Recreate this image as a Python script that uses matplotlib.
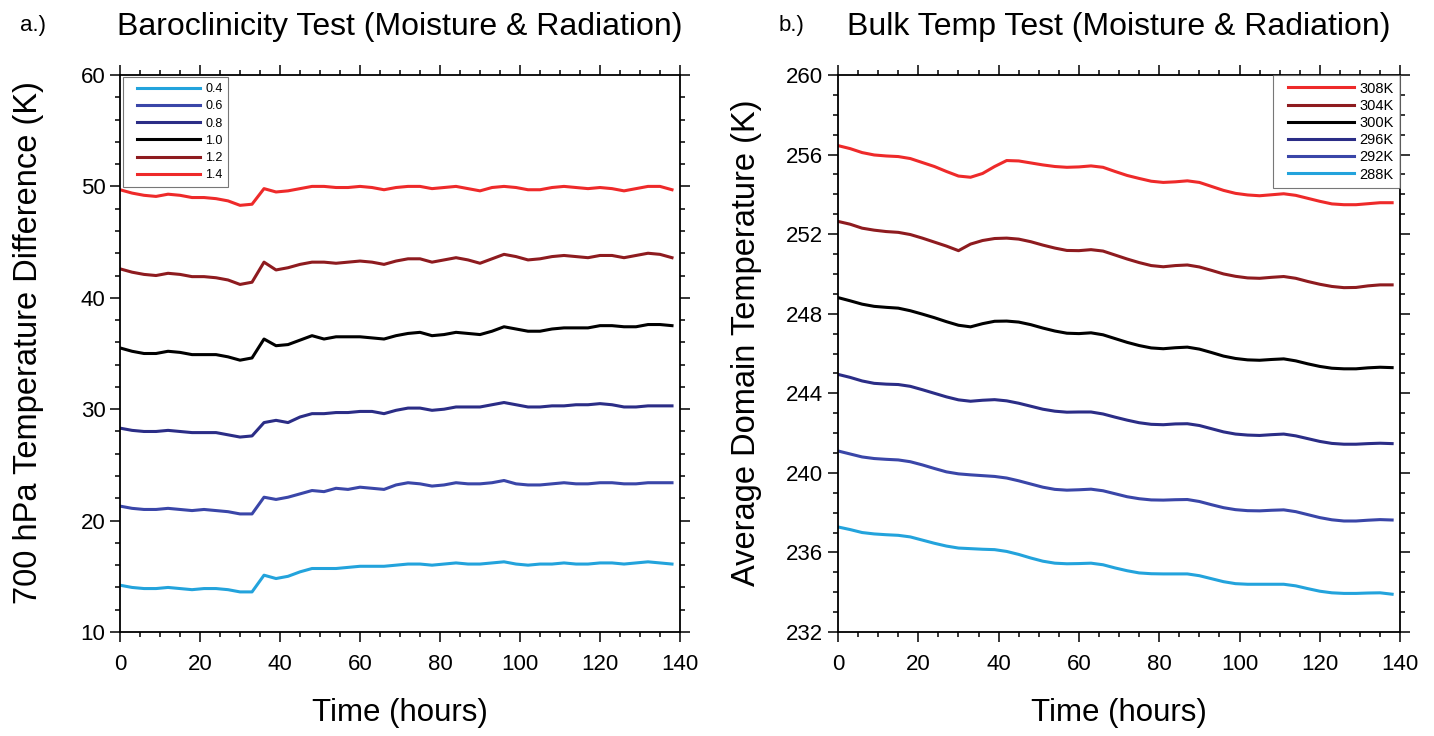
import matplotlib.pyplot as plt
from matplotlib.legend_handler import HandlerLine2D
from matplotlib.lines import Line2D
from matplotlib.ticker import MultipleLocator

plt.rcParams['font.family'] = ['Liberation Sans', 'DejaVu Sans']

hours = list(range(0, 139, 3))

# a.) baroclinicity test
baro_labels = ['0.4', '0.6', '0.8', '1.0', '1.2', '1.4']
baro_04 = [14.2, 14.0, 13.9, 13.9, 14.0, 13.9, 13.8, 13.9, 13.9, 13.8, 13.6, 13.6, 15.1, 14.8, 15.0, 15.4,
           15.7, 15.7, 15.7, 15.8, 15.9, 15.9, 15.9, 16.0, 16.1, 16.1, 16.0, 16.1, 16.2, 16.1, 16.1, 16.2,
           16.3, 16.1, 16.0, 16.1, 16.1, 16.2, 16.1, 16.1, 16.2, 16.2, 16.1, 16.2, 16.3, 16.2, 16.1]
baro_06 = [21.3, 21.1, 21.0, 21.0, 21.1, 21.0, 20.9, 21.0, 20.9, 20.8, 20.6, 20.6, 22.1, 21.9, 22.1, 22.4,
           22.7, 22.6, 22.9, 22.8, 23.0, 22.9, 22.8, 23.2, 23.4, 23.3, 23.1, 23.2, 23.4, 23.3, 23.3, 23.4,
           23.6, 23.3, 23.2, 23.2, 23.3, 23.4, 23.3, 23.3, 23.4, 23.4, 23.3, 23.3, 23.4, 23.4, 23.4]
baro_08 = [28.3, 28.1, 28.0, 28.0, 28.1, 28.0, 27.9, 27.9, 27.9, 27.7, 27.5, 27.6, 28.8, 29.0, 28.8, 29.3,
           29.6, 29.6, 29.7, 29.7, 29.8, 29.8, 29.6, 29.9, 30.1, 30.1, 29.9, 30.0, 30.2, 30.2, 30.2, 30.4,
           30.6, 30.4, 30.2, 30.2, 30.3, 30.3, 30.4, 30.4, 30.5, 30.4, 30.2, 30.2, 30.3, 30.3, 30.3]
baro_10 = [35.5, 35.2, 35.0, 35.0, 35.2, 35.1, 34.9, 34.9, 34.9, 34.7, 34.4, 34.6, 36.3, 35.7, 35.8, 36.2,
           36.6, 36.3, 36.5, 36.5, 36.5, 36.4, 36.3, 36.6, 36.8, 36.9, 36.6, 36.7, 36.9, 36.8, 36.7, 37.0,
           37.4, 37.2, 37.0, 37.0, 37.2, 37.3, 37.3, 37.3, 37.5, 37.5, 37.4, 37.4, 37.6, 37.6, 37.5]
baro_12 = [42.6, 42.3, 42.1, 42.0, 42.2, 42.1, 41.9, 41.9, 41.8, 41.6, 41.2, 41.4, 43.2, 42.5, 42.7, 43.0,
           43.2, 43.2, 43.1, 43.2, 43.3, 43.2, 43.0, 43.3, 43.5, 43.5, 43.2, 43.4, 43.6, 43.4, 43.1, 43.5,
           43.9, 43.7, 43.4, 43.5, 43.7, 43.8, 43.7, 43.6, 43.8, 43.8, 43.6, 43.8, 44.0, 43.9, 43.6]
baro_14 = [49.7, 49.4, 49.2, 49.1, 49.3, 49.2, 49.0, 49.0, 48.9, 48.7, 48.3, 48.4, 49.8, 49.5, 49.6, 49.8,
           50.0, 50.0, 49.9, 49.9, 50.0, 49.9, 49.7, 49.9, 50.0, 50.0, 49.8, 49.9, 50.0, 49.8, 49.6, 49.9,
           50.0, 49.9, 49.7, 49.7, 49.9, 50.0, 49.9, 49.8, 49.9, 49.8, 49.6, 49.8, 50.0, 50.0, 49.7]

# b.) bulk temperature test
bulk_labels = ['308K', '304K', '300K', '296K', '292K', '288K']
bulk_308 = [256.45, 256.3, 256.1, 255.98, 255.93, 255.9, 255.8, 255.6, 255.4, 255.15, 254.92, 254.86,
            255.05, 255.4, 255.7, 255.68, 255.58, 255.48, 255.4, 255.36, 255.38, 255.43, 255.36, 255.15,
            254.95, 254.8, 254.66, 254.6, 254.63, 254.68, 254.6, 254.4, 254.2, 254.05, 253.97, 253.93,
            253.98, 254.03, 253.95, 253.8, 253.65, 253.52, 253.48, 253.48, 253.53, 253.58, 253.58]
bulk_304 = [252.64, 252.5, 252.3, 252.2, 252.13, 252.09, 251.98, 251.8, 251.6, 251.4, 251.17, 251.5,
            251.68, 251.78, 251.8, 251.75, 251.62, 251.45, 251.3, 251.18, 251.17, 251.22, 251.15, 250.95,
            250.75, 250.57, 250.42, 250.36, 250.42, 250.45, 250.35, 250.18, 250.0, 249.88, 249.8, 249.78,
            249.83, 249.87, 249.78, 249.62, 249.48, 249.37, 249.31, 249.32, 249.4, 249.45, 249.45]
bulk_300 = [248.81, 248.65, 248.48, 248.37, 248.32, 248.28, 248.15, 247.98, 247.8, 247.6, 247.42, 247.34,
            247.5, 247.62, 247.63, 247.58, 247.45, 247.28, 247.13, 247.02, 247.0, 247.04, 246.94, 246.75,
            246.56, 246.4, 246.28, 246.24, 246.29, 246.32, 246.22, 246.05, 245.87, 245.75, 245.68, 245.66,
            245.7, 245.73, 245.63, 245.48, 245.35, 245.26, 245.23, 245.23, 245.28, 245.31, 245.29]
bulk_296 = [244.95, 244.8, 244.62, 244.5, 244.46, 244.44, 244.35, 244.18, 244.0, 243.82, 243.67, 243.6,
            243.65, 243.68, 243.62, 243.5, 243.35, 243.2, 243.1, 243.05, 243.06, 243.06, 242.96, 242.8,
            242.65, 242.52, 242.44, 242.42, 242.46, 242.47, 242.38, 242.22, 242.06, 241.95, 241.9, 241.88,
            241.92, 241.95, 241.86, 241.72, 241.58, 241.48, 241.44, 241.44, 241.47, 241.49, 241.47]
bulk_292 = [241.1, 240.95, 240.8, 240.72, 240.68, 240.65, 240.56, 240.4, 240.22, 240.05, 239.95, 239.9,
            239.86, 239.82, 239.74, 239.6, 239.44, 239.28, 239.17, 239.13, 239.15, 239.18, 239.1, 238.95,
            238.8, 238.7, 238.64, 238.63, 238.65, 238.66, 238.56, 238.4, 238.25, 238.15, 238.1, 238.09,
            238.12, 238.14, 238.05, 237.9, 237.75, 237.64, 237.58, 237.58, 237.62, 237.65, 237.63]
bulk_288 = [237.28, 237.15, 237.0, 236.93, 236.89, 236.86, 236.78, 236.62, 236.46, 236.32, 236.22, 236.19,
            236.16, 236.14, 236.05, 235.9, 235.72, 235.56, 235.46, 235.43, 235.44, 235.46, 235.38, 235.22,
            235.08, 234.97, 234.93, 234.92, 234.92, 234.92, 234.83, 234.68, 234.53, 234.43, 234.4, 234.4,
            234.4, 234.4, 234.32, 234.18, 234.05, 233.97, 233.94, 233.94, 233.96, 233.97, 233.9]

col_light = '#23a3dc'
col_blue = '#3a46a8'
col_navy = '#2b2d86'
col_black = '#000000'
col_dred = '#8e1b1f'
col_red = '#ee2a2a'


class IndentedLine(HandlerLine2D):
    # legend line that leaves an empty gap at its left end
    def __init__(self, gap, **kw):
        super().__init__(**kw)
        self.gap = gap

    def create_artists(self, legend, orig_handle, xdescent, ydescent, width, height, fontsize, trans):
        arts = super().create_artists(legend, orig_handle, xdescent, ydescent, width, height, fontsize, trans)
        xd = list(arts[0].get_xdata())
        xd[0] = xd[0] + self.gap * fontsize
        arts[0].set_xdata(xd)
        return arts


fig = plt.figure(figsize=(14.34, 7.36), dpi=100)
ax1 = fig.add_axes([0.0837, 0.1413, 0.3905, 0.7568])
ax2 = fig.add_axes([0.5844, 0.1413, 0.3920, 0.7568])


def style_axes(ax):
    ax.tick_params(which='both', direction='out', top=True, right=True, labelsize=16, width=1.1)
    ax.tick_params(which='major', length=7)
    ax.tick_params(which='minor', length=3.5)
    ax.tick_params(axis='x', which='major', pad=9)
    for sp in ax.spines.values():
        sp.set_linewidth(1.3)
    ax.set_xlim(0, 140)
    ax.xaxis.set_major_locator(MultipleLocator(20))
    ax.xaxis.set_minor_locator(MultipleLocator(5))
    ax.set_xlabel('Time (hours)', fontsize=22.5)
    ax.xaxis.set_label_coords(0.5, -0.118)


def style_legend(leg):
    leg.get_frame().set_edgecolor('#555555')
    leg.get_frame().set_linewidth(0.8)


# panel a
baro_series = [baro_04, baro_06, baro_08, baro_10, baro_12, baro_14]
baro_colors = [col_light, col_blue, col_navy, col_black, col_dred, col_red]
for lab, vals, c in zip(baro_labels, baro_series, baro_colors):
    ax1.plot(hours, vals, color=c, lw=2.2, label=lab)
style_axes(ax1)
ax1.set_ylim(10, 60)
ax1.yaxis.set_major_locator(MultipleLocator(10))
ax1.yaxis.set_minor_locator(MultipleLocator(2))
ax1.set_ylabel('700 hPa Temperature Difference (K)', fontsize=23.5)
ax1.yaxis.set_label_coords(-0.135, 0.52)
ax1.set_title('Baroclinicity Test (Moisture & Radiation)', fontsize=23, pad=29)
fig.text(0.014, 0.966, 'a.)', fontsize=16, va='center')
leg1 = ax1.legend(loc='upper left', fontsize=9, handlelength=5.75, frameon=True, fancybox=False,
                  borderaxespad=0.2, borderpad=0.45, labelspacing=0.42, handletextpad=0.4,
                  handler_map={Line2D: IndentedLine(0.72)})
style_legend(leg1)

# panel b
bulk_series = [bulk_308, bulk_304, bulk_300, bulk_296, bulk_292, bulk_288]
bulk_colors = [col_red, col_dred, col_black, col_navy, col_blue, col_light]
for lab, vals, c in zip(bulk_labels, bulk_series, bulk_colors):
    ax2.plot(hours, vals, color=c, lw=2.2, label=lab)
style_axes(ax2)
ax2.set_ylim(232, 260)
ax2.yaxis.set_major_locator(MultipleLocator(4))
ax2.yaxis.set_minor_locator(MultipleLocator(1))
ax2.set_ylabel('Average Domain Temperature (K)', fontsize=23.5)
ax2.yaxis.set_label_coords(-0.135, 0.52)
ax2.set_title('Bulk Temp Test (Moisture & Radiation)', fontsize=23, pad=29)
fig.text(0.543, 0.966, 'b.)', fontsize=16, va='center')
leg2 = ax2.legend(loc='upper right', fontsize=10.5, handlelength=5.1, frameon=True, fancybox=False,
                  borderaxespad=0.0, borderpad=0.45, labelspacing=0.22, handletextpad=0.34,
                  handler_map={Line2D: IndentedLine(0.55)})
style_legend(leg2)

plt.savefig('out.png', dpi=100)
